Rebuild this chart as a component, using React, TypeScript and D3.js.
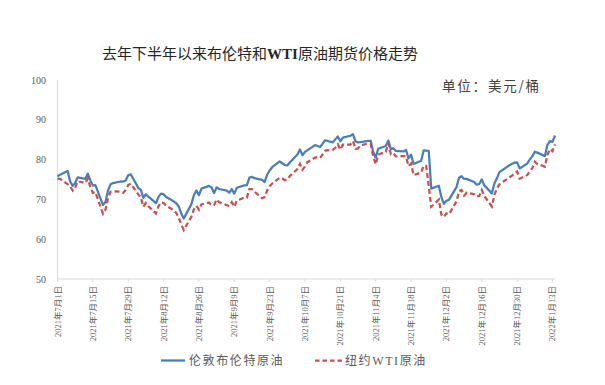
import React from "react";
import * as d3 from "d3";

// trading days, Jul 1 2021 - Jan 14 2022
const dates = [
  "2021-07-01", "2021-07-02", "2021-07-05", "2021-07-06", "2021-07-07", "2021-07-08", "2021-07-09",
  "2021-07-12", "2021-07-13", "2021-07-14", "2021-07-15", "2021-07-16", "2021-07-19", "2021-07-20",
  "2021-07-21", "2021-07-22", "2021-07-23", "2021-07-26", "2021-07-27", "2021-07-28", "2021-07-29",
  "2021-07-30",
  "2021-08-02", "2021-08-03", "2021-08-04", "2021-08-05", "2021-08-06", "2021-08-09", "2021-08-10",
  "2021-08-11", "2021-08-12", "2021-08-13", "2021-08-16", "2021-08-17", "2021-08-18", "2021-08-19",
  "2021-08-20", "2021-08-23", "2021-08-24", "2021-08-25", "2021-08-26", "2021-08-27", "2021-08-30",
  "2021-08-31",
  "2021-09-01", "2021-09-02", "2021-09-03", "2021-09-06", "2021-09-07", "2021-09-08", "2021-09-09",
  "2021-09-10", "2021-09-13", "2021-09-14", "2021-09-15", "2021-09-16", "2021-09-17", "2021-09-20",
  "2021-09-21", "2021-09-22", "2021-09-23", "2021-09-24", "2021-09-27", "2021-09-28", "2021-09-29",
  "2021-09-30",
  "2021-10-01", "2021-10-04", "2021-10-05", "2021-10-06", "2021-10-07", "2021-10-08", "2021-10-11",
  "2021-10-12", "2021-10-13", "2021-10-14", "2021-10-15", "2021-10-18", "2021-10-19", "2021-10-20",
  "2021-10-21", "2021-10-22", "2021-10-25", "2021-10-26", "2021-10-27", "2021-10-28", "2021-10-29",
  "2021-11-01", "2021-11-02", "2021-11-03", "2021-11-04", "2021-11-05", "2021-11-08", "2021-11-09",
  "2021-11-10", "2021-11-11", "2021-11-12", "2021-11-15", "2021-11-16", "2021-11-17", "2021-11-18",
  "2021-11-19", "2021-11-22", "2021-11-23", "2021-11-24", "2021-11-25", "2021-11-26", "2021-11-29",
  "2021-11-30",
  "2021-12-01", "2021-12-02", "2021-12-03", "2021-12-06", "2021-12-07", "2021-12-08", "2021-12-09",
  "2021-12-10", "2021-12-13", "2021-12-14", "2021-12-15", "2021-12-16", "2021-12-17", "2021-12-20",
  "2021-12-21", "2021-12-22", "2021-12-23", "2021-12-27", "2021-12-28", "2021-12-29", "2021-12-30",
  "2021-12-31",
  "2022-01-03", "2022-01-04", "2022-01-05", "2022-01-06", "2022-01-07", "2022-01-10", "2022-01-11",
  "2022-01-12", "2022-01-13", "2022-01-14",
];

const brent = [
  75.84, 76.17, 77.16, 74.53, 73.43, 74.12, 75.55, 75.16, 76.49, 74.76, 73.47, 73.59, 68.62, 69.35,
  72.23, 73.79, 74.1, 74.5, 74.48, 74.74, 76.05, 76.33,
  72.89, 72.41, 70.38, 71.29, 70.7, 69.04, 70.63, 71.44, 71.31, 70.59, 69.51, 69.03, 68.23, 66.45,
  65.18, 68.75, 71.05, 72.25, 71.07, 72.7, 73.41, 72.99,
  71.59, 73.03, 72.61, 72.22, 71.69, 72.6, 71.45, 72.92, 73.51, 73.6, 75.46, 75.67, 75.34, 74.92,
  74.36, 76.19, 77.25, 78.09, 79.53, 79.09, 78.64, 78.52,
  79.28, 81.26, 82.56, 81.08, 81.95, 82.39, 83.65, 83.42, 83.18, 84.0, 84.86, 84.33, 85.08, 85.82,
  84.61, 85.53, 85.99, 86.4, 84.58, 84.32, 84.38,
  84.71, 84.72, 81.99, 80.54, 82.74, 83.43, 84.78, 82.64, 82.87, 82.17, 82.05, 82.43, 80.28, 81.24,
  78.89, 79.7, 82.31, 82.25, 82.22, 72.72, 73.44, 70.57,
  68.87, 69.67, 69.88, 73.08, 75.44, 75.82, 75.15, 75.15, 74.39, 73.7, 73.88, 75.02, 73.52, 71.52,
  73.98, 75.29, 76.85, 78.6, 78.94, 79.23, 79.32, 77.78,
  78.98, 80.0, 80.8, 81.99, 81.75, 80.87, 83.72, 84.67, 84.47, 86.06,
];

// null = no settlement that day
const wti = [
  75.23, 75.16, null, 73.37, 72.2, 72.94, 74.56, 74.1, 75.25, 73.13, 71.65, 71.81, 66.42, 67.42,
  70.3, 71.91, 72.07, 71.91, 71.65, 72.39, 73.62, 73.95,
  71.26, 70.56, 68.15, 69.09, 68.28, 66.48, 68.29, 69.25, 69.09, 68.44, 67.29, 66.59, 65.46, 63.69,
  62.32, 65.64, 67.54, 68.36, 67.42, 68.74, 69.21, 68.5,
  68.59, 69.99, 69.29, null, 68.35, 69.3, 68.14, 69.72, 70.45, 70.46, 72.61, 72.61, 71.97, 70.29,
  70.56, 72.23, 73.3, 73.98, 75.45, 75.29, 74.83, 75.03,
  75.88, 77.62, 78.93, 77.43, 78.3, 79.35, 80.52, 80.64, 80.44, 81.31, 82.28, 82.44, 82.96, 83.87,
  82.5, 83.76, 83.76, 84.65, 82.66, 82.81, 83.57,
  84.05, 83.91, 80.86, 78.81, 81.27, 81.93, 84.15, 81.34, 81.59, 80.79, 80.88, 80.76, 78.36, 79.01,
  76.1, 76.75, 78.5, 78.39, null, 68.15, 69.95, 66.18,
  65.57, 66.5, 66.26, 69.49, 72.05, 72.36, 70.94, 71.67, 71.29, 70.73, 70.87, 72.38, 70.86, 68.23,
  71.12, 72.76, 73.79, 75.57, 75.98, 76.56, 76.99, 75.21,
  76.08, 76.99, 77.85, 79.46, 78.9, 78.23, 81.22, 82.64, 82.12, 83.82,
];

const tickDates = [
  "2021-07-01", "2021-07-15", "2021-07-29", "2021-08-12", "2021-08-26", "2021-09-09", "2021-09-23",
  "2021-10-07", "2021-10-21", "2021-11-04", "2021-11-18", "2021-12-02", "2021-12-16", "2021-12-30",
  "2022-01-13",
];
const yTicks = [50, 60, 70, 80, 90, 100];

const title = "去年下半年以来布伦特和WTI原油期货价格走势";
const unitLabel = "单位：美元/桶";
const seriesNames = ["伦敦布伦特原油", "纽约WTI原油"];
const colors = ["#4a7ebb", "#c8504d"];

const W = 605;
const H = 385;
const margin = { left: 57.5, right: 50, top: 80, bottom: 106 };
const FONT = "'Liberation Serif', 'Noto Sans CJK SC', serif";

const parse = d3.timeParse("%Y-%m-%d");

export default function App() {
  const x = d3
    .scaleTime()
    .domain([parse(dates[0])!, parse(dates[dates.length - 1])!])
    .range([margin.left, W - margin.right]);
  const y = d3
    .scaleLinear()
    .domain([50, 100])
    .range([H - margin.bottom, margin.top]);

  const toPoints = (vals: (number | null)[]) =>
    dates
      .map((d, i) => ({ date: parse(d)!, v: vals[i] }))
      .filter((p) => p.v != null) as { date: Date; v: number }[];

  const line = d3
    .line<{ date: Date; v: number }>()
    .x((p) => x(p.date))
    .y((p) => y(p.v));

  const y0 = y(50);
  const fmt = (d: Date) => `${d.getFullYear()}年${d.getMonth() + 1}月${d.getDate()}日`;

  return (
    <svg
      width={W}
      height={H}
      style={{ position: "absolute", left: 0, top: 0, background: "#fff" }}
    >
      <text
        x={260}
        y={59}
        textAnchor="middle"
        fontFamily={FONT}
        fontSize={15}
        fill="#262626"
      >
        {title.split("WTI")[0]}
        <tspan fontWeight="bold">WTI</tspan>
        {title.split("WTI")[1]}
      </text>
      <text
        x={442}
        y={91}
        fontFamily="'Noto Sans CJK SC', sans-serif"
        fontSize={13.5}
        letterSpacing={1.8}
        fill="#404040"
      >
        {unitLabel}
      </text>

      {/* axes */}
      <line x1={margin.left} x2={margin.left} y1={margin.top} y2={y0} stroke="#d9d9d9" />
      <line x1={margin.left} x2={W - margin.right} y1={y0} y2={y0} stroke="#d9d9d9" />
      {yTicks.map((t) => (
        <text
          key={t}
          x={46}
          y={y(t) + 3.5}
          textAnchor="end"
          fontFamily={FONT}
          fontSize={10}
          fill="#595959"
        >
          {t}
        </text>
      ))}
      {tickDates.map((s) => {
        const d = parse(s)!;
        const tx = x(d);
        return (
          <g key={s}>
            <line x1={tx} x2={tx} y1={y0} y2={y0 + 3} stroke="#d9d9d9" />
            <text
              transform={`translate(${tx + 3},${y0 + 7}) rotate(-90)`}
              textAnchor="end"
              fontFamily={FONT}
              fontSize={8.5}
              fill="#595959"
            >
              {fmt(d)}
            </text>
          </g>
        );
      })}

      {/* series */}
      <path
        d={line(toPoints(brent)) || ""}
        fill="none"
        stroke={colors[0]}
        strokeWidth={2.25}
        strokeLinejoin="round"
      />
      <path
        d={line(toPoints(wti)) || ""}
        fill="none"
        stroke={colors[1]}
        strokeWidth={2.25}
        strokeDasharray="5,3"
      />

      {/* legend */}
      <line x1={161} x2={185} y1={360.5} y2={360.5} stroke={colors[0]} strokeWidth={2.25} />
      <text
        x={189}
        y={365}
        fontFamily={FONT}
        fontSize={12}
        letterSpacing={1.6}
        fill="#595959"
      >
        {seriesNames[0]}
      </text>
      <line
        x1={315}
        x2={342}
        y1={360.5}
        y2={360.5}
        stroke={colors[1]}
        strokeWidth={2.25}
        strokeDasharray="4.5,3"
      />
      <text
        x={345}
        y={365}
        fontFamily={FONT}
        fontSize={12}
        letterSpacing={1.6}
        fill="#595959"
      >
        {seriesNames[1]}
      </text>
    </svg>
  );
}
